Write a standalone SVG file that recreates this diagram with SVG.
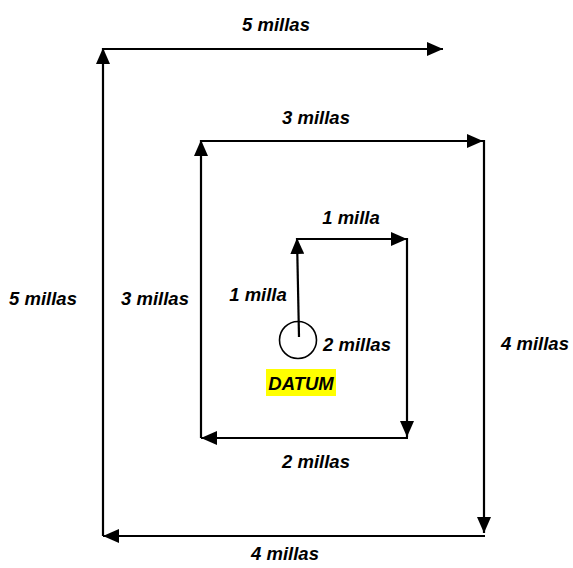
<svg xmlns="http://www.w3.org/2000/svg" width="573" height="568" viewBox="0 0 573 568">
<style>
.c{stroke:#000;stroke-width:2.2;fill:none;marker-end:url(#ah)}
.t{font-family:"Liberation Sans",Arial,sans-serif;font-weight:bold;font-style:italic;font-size:18.5px;fill:#000;text-anchor:middle}
</style>
<defs>
<marker id="ah" markerUnits="userSpaceOnUse" markerWidth="16" markerHeight="14" refX="16" refY="7" orient="auto">
<path d="M0,0 L16,7 L0,14 z" fill="#000"/>
</marker>
</defs>
<rect width="573" height="568" fill="#fff"/>
<g id="connectors">
<path class="c" d="M103,536 L103,48"/>
<path class="c" d="M102,49 L443,49"/>
<path class="c" d="M484,140 L484,533"/>
<path class="c" d="M485,536 L103,536"/>
<path class="c" d="M201,438 L201,140"/>
<path class="c" d="M200,141 L483,141"/>
<path class="c" d="M299,337 L297,238"/>
<path class="c" d="M296,239 L407,239"/>
<path class="c" d="M407,238 L407,437"/>
<path class="c" d="M408,438 L201,438"/>
</g>
<g id="datum">
<circle cx="298" cy="340" r="18.5" fill="none" stroke="#000" stroke-width="1.6"/>
<rect x="266" y="369" width="70" height="27" fill="#ffff00"/>
<text class="t" x="301" y="390">DATUM</text>
</g>
<g id="labels">
<text class="t" x="276" y="31">5 millas</text>
<text class="t" x="316" y="124">3 millas</text>
<text class="t" x="351" y="224">1 milla</text>
<text class="t" x="258" y="301">1 milla</text>
<text class="t" x="357" y="351">2 millas</text>
<text class="t" x="316" y="468">2 millas</text>
<text class="t" x="285" y="560">4 millas</text>
<text class="t" x="43" y="305">5 millas</text>
<text class="t" x="155" y="305">3 millas</text>
<text class="t" x="535" y="350">4 millas</text>
</g>
</svg>
